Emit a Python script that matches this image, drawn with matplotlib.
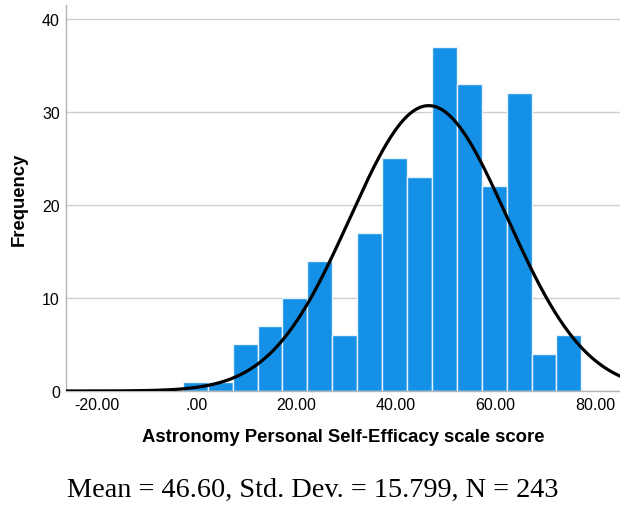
import numpy as np
import matplotlib
matplotlib.use("Agg")
import matplotlib.pyplot as plt

# Data
bin_start = -2.75
bin_width = 5.0
counts = [1, 1, 5, 7, 10, 14, 6, 17, 25, 23, 37, 33, 22, 32, 4, 6]
mean = 46.60
sd = 15.799
n = 243
x_ticks = [-20, 0, 20, 40, 60, 80]
x_tick_labels = ["-20.00", ".00", "20.00", "40.00", "60.00", "80.00"]
y_ticks = [0, 10, 20, 30, 40]

plt.rcParams['font.family'] = ['Liberation Sans', 'DejaVu Sans']

fig = plt.figure(figsize=(6.2, 5.06), dpi=100)
ax = fig.add_axes([65.5/620, 1-392/506, 1-65.5/620, (392-6)/506])

lefts = bin_start + bin_width*np.arange(len(counts))
ax.bar(lefts, counts, width=bin_width, align='edge', color='#1490e6',
       edgecolor='#e8f2fb', linewidth=1.0, zorder=2)

xs = np.linspace(-27, 86, 600)
ys = n*bin_width/(sd*np.sqrt(2*np.pi))*np.exp(-0.5*((xs-mean)/sd)**2)
ax.plot(xs, ys, color='black', lw=2.3, zorder=3, solid_capstyle='round')

ax.set_xlim(-26.3, 85.0)
ax.set_ylim(0, 41.5)
ax.set_xticks(x_ticks)
ax.set_xticklabels(x_tick_labels, fontsize=11.5)
ax.set_yticks(y_ticks)
ax.set_yticklabels([str(v) for v in y_ticks], fontsize=11.5)
ax.tick_params(length=0, pad=4)
ax.yaxis.grid(True, color='#cfcfcf', lw=1.0, zorder=0)
ax.set_axisbelow(True)
for s in ['top', 'right']:
    ax.spines[s].set_visible(False)
for s in ['left', 'bottom']:
    ax.spines[s].set_color('#b5b5b5')
    ax.spines[s].set_linewidth(1.0)

ax.set_xlabel("Astronomy Personal Self-Efficacy scale score", fontsize=13.3,
              fontweight='bold', labelpad=12)
ax.set_ylabel("Frequency", fontsize=13.3, fontweight='bold', labelpad=10)

fig.text(313/620, 1-490/506, "Mean = 46.60, Std. Dev. = 15.799, N = 243",
         ha='center', va='center', fontsize=20.3, family=['Liberation Serif'])

fig.savefig("out.png", dpi=100)
